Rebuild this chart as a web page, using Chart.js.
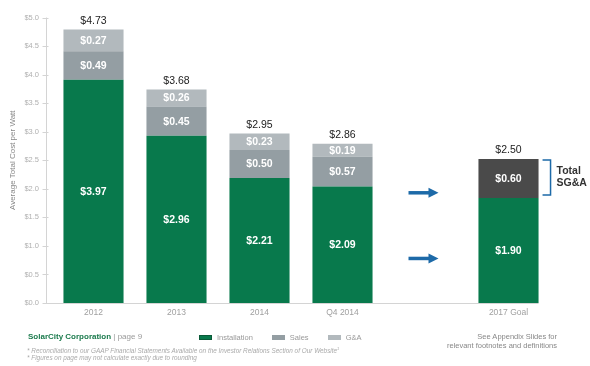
<!DOCTYPE html>
<html><head><meta charset="utf-8">
<script src="https://cdn.jsdelivr.net/npm/chart.js@4.4.1/dist/chart.umd.min.js"></script>
<style>
html,body{margin:0;padding:0;background:#fff;}
#wrap{position:relative;width:590px;height:366px;overflow:hidden;font-family:"Liberation Sans",Arial,Helvetica,sans-serif;}
canvas{position:absolute;left:0;top:0;}
.t{position:absolute;white-space:nowrap;}
#legend{position:absolute;left:199px;top:332px;height:10px;display:flex;align-items:center;font-size:7.5px;color:#999;}
#legend .it{display:flex;align-items:center;margin-right:19px;}
#legend .bx{width:13px;height:5px;margin-right:5px;box-sizing:border-box;}
</style></head><body>
<div id="wrap">
<canvas id="c" width="590" height="366"></canvas>
<div class="t" style="left:28px;top:331.5px;font-size:8px;line-height:10px;"><b style="color:#1a7a4c">SolarCity Corporation</b><span style="color:#999"> | page 9</span></div>
<div id="legend"></div>
<div class="t" style="left:27px;top:345px;font-size:6.4px;line-height:8px;font-style:italic;color:#aaa;">* Reconciliation to our GAAP Financial Statements Available on the Investor Relations Section of Our Website<sup style="font-size:4px">1</sup></div>
<div class="t" style="left:27px;top:354px;font-size:6.4px;line-height:8px;font-style:italic;color:#aaa;">* Figures on page may not calculate exactly due to rounding</div>
<div class="t" style="right:33px;top:331.5px;font-size:7.5px;line-height:9.5px;color:#888;text-align:right;">See Appendix Slides for<br>relevant footnotes and definitions</div>
</div>
<script>
// ---- data ----
const categories = ['2012', '2013', '2014', 'Q4 2014', '', '2017 Goal'];
const seriesNames = ['Installation', 'Sales', 'G&A'];
// bar segment heights as drawn in the picture ($/W)
const installation = [3.91, 2.93, 2.19, 2.04, null, 1.84];
const sales        = [0.50, 0.51, 0.49, 0.52, null, null];
const ga           = [0.38, 0.30, 0.29, 0.23, null, null];
const goalSGA      = [null, null, null, null, null, 0.68];
// values printed on the bars
const installationLabels = ['$3.97', '$2.96', '$2.21', '$2.09', '', '$1.90'];
const salesLabels        = ['$0.49', '$0.45', '$0.50', '$0.57', '', ''];
const gaLabels           = ['$0.27', '$0.26', '$0.23', '$0.19', '', ''];
const goalSGALabels      = ['', '', '', '', '', '$0.60'];
const totalLabels        = ['$4.73', '$3.68', '$2.95', '$2.86', '', '$2.50'];
// y-axis
const yTicksMin = 0, yTicksMax = 5, yTickStep = 0.5;
// arrow levels ($/W) in the empty slot
const arrowLevels = [1.93, 0.78];

const FONT = '"Liberation Sans", Arial, Helvetica, sans-serif';
const colors = { installation: '#08794c', sales: '#949ea3', ga: '#b2b9bd', sga: '#4a4a4a', blue: '#1d6aa8' };

// legend (html)
const legendColors = [colors.installation, colors.sales, colors.ga];
const lg = document.getElementById('legend');
seriesNames.forEach((n, i) => {
  const it = document.createElement('div'); it.className = 'it';
  const bx = document.createElement('div'); bx.className = 'bx'; bx.style.background = legendColors[i];
  if (i === 0) bx.style.border = '1px solid #0a5a38';
  const tx = document.createElement('span'); tx.textContent = n;
  it.appendChild(bx); it.appendChild(tx); lg.appendChild(it);
});

const segLabels = [installationLabels, salesLabels, gaLabels, goalSGALabels];

const overlay = {
  id: 'overlay',
  afterDatasetsDraw(chart) {
    const ctx = chart.ctx, xs = chart.scales.x, ys = chart.scales.y, ca = chart.chartArea;
    ctx.save();
    // axes lines
    const axX = Math.round(ca.left - 6.5) + 0.5;
    const y0 = ys.getPixelForValue(0), y5 = ys.getPixelForValue(yTicksMax);
    ctx.strokeStyle = '#d4d4d4'; ctx.lineWidth = 1;
    ctx.beginPath(); ctx.moveTo(axX, y5); ctx.lineTo(axX, y0); ctx.stroke();
    ys.ticks.forEach(t => {
      const py = Math.round(ys.getPixelForValue(t.value)) + 0.5;
      ctx.beginPath(); ctx.moveTo(axX - 4, py); ctx.lineTo(axX + 2, py); ctx.stroke();
    });
    const lastMeta = chart.getDatasetMeta(0).data[categories.length - 1];
    const lastRight = lastMeta.x + lastMeta.width / 2;
    ctx.beginPath(); ctx.moveTo(axX, Math.round(y0) + 0.5); ctx.lineTo(lastRight, Math.round(y0) + 0.5); ctx.stroke();

    // segment labels
    ctx.textAlign = 'center'; ctx.textBaseline = 'middle';
    ctx.font = 'bold 10.5px ' + FONT; ctx.fillStyle = '#ffffff';
    segLabels.forEach((arr, d) => {
      const meta = chart.getDatasetMeta(d);
      meta.data.forEach((el, i) => {
        if (!arr[i]) return;
        const p = el.getProps(['x', 'y', 'base'], true);
        ctx.fillText(arr[i], p.x, (p.y + p.base) / 2 + 0.5);
      });
    });
    // totals
    ctx.font = '10.5px ' + FONT; ctx.fillStyle = '#222';
    categories.forEach((c, i) => {
      if (!totalLabels[i]) return;
      let top = Infinity, x = 0;
      chart.data.datasets.forEach((ds, d) => {
        if (ds.data[i] == null) return;
        const el = chart.getDatasetMeta(d).data[i];
        top = Math.min(top, el.y); x = el.x;
      });
      ctx.fillText(totalLabels[i], x, top - 8.5);
    });
    // bracket + Total SG&A
    const g = chart.getDatasetMeta(3).data[categories.length - 1];
    const gr = g.x + g.width / 2;
    const bt = g.y + 1, bb = g.base - 3;
    ctx.strokeStyle = colors.blue; ctx.lineWidth = 1.5;
    ctx.beginPath(); ctx.moveTo(gr + 4, bt); ctx.lineTo(gr + 12, bt); ctx.lineTo(gr + 12, bb); ctx.lineTo(gr + 4, bb); ctx.stroke();
    ctx.fillStyle = '#333'; ctx.font = 'bold 10.5px ' + FONT; ctx.textAlign = 'left';
    const mid = (bt + bb) / 2;
    ctx.fillText('Total', gr + 18, mid - 6);
    ctx.fillText('SG&A', gr + 18, mid + 6);
    // arrows
    const cx = xs.getPixelForValue(4);
    ctx.fillStyle = colors.blue; ctx.strokeStyle = colors.blue; ctx.lineWidth = 3.5;
    arrowLevels.forEach(v => {
      const py = ys.getPixelForValue(v);
      ctx.beginPath(); ctx.moveTo(cx - 17, py); ctx.lineTo(cx + 4, py); ctx.stroke();
      ctx.beginPath(); ctx.moveTo(cx + 3, py - 5); ctx.lineTo(cx + 13, py); ctx.lineTo(cx + 3, py + 5); ctx.closePath(); ctx.fill();
    });
    ctx.restore();
  }
};

new Chart(document.getElementById('c'), {
  type: 'bar',
  data: {
    labels: categories,
    datasets: [
      { label: seriesNames[0], data: installation, backgroundColor: colors.installation },
      { label: seriesNames[1], data: sales, backgroundColor: colors.sales },
      { label: seriesNames[2], data: ga, backgroundColor: colors.ga },
      { label: 'Total SG&A', data: goalSGA, backgroundColor: colors.sga }
    ]
  },
  options: {
    responsive: false, animation: false, devicePixelRatio: 1,
    layout: { padding: { left: 0, right: 40, top: 16, bottom: 43 } },
    datasets: { bar: { categoryPercentage: 1, barPercentage: 0.724 } },
    plugins: { legend: { display: false }, tooltip: { enabled: false } },
    scales: {
      x: {
        stacked: true,
        grid: { display: false, drawTicks: false }, border: { display: false },
        ticks: { color: '#a0a0a0', font: { family: FONT, size: 8.5 }, padding: 5, maxRotation: 0 },
        afterFit(s) { s.height = 20; }
      },
      y: {
        stacked: true, min: yTicksMin, max: yTicksMax,
        grid: { display: false, drawTicks: false }, border: { display: false },
        ticks: { stepSize: yTickStep, color: '#b0b0b0', font: { family: FONT, size: 7.5 }, padding: 13,
                 callback: v => '$' + Number(v).toFixed(1) },
        title: { display: true, text: 'Average Total Cost per Watt', color: '#888', font: { family: FONT, size: 8 }, padding: { top: 7.5, bottom: 0 } },
        afterFit(s) { s.width = 52; }
      }
    }
  },
  plugins: [overlay]
});
</script>
</body></html>
